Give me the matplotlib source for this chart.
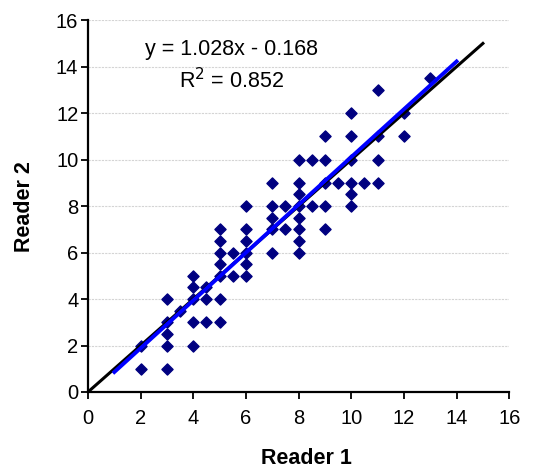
import matplotlib.pyplot as plt
import numpy as np

plt.rcParams['font.family'] = ['Liberation Sans', 'DejaVu Sans']

# Reader scores
reader1 = [2, 2, 3, 3, 3, 3, 3, 3.5, 4, 4, 4, 4, 4, 4.5, 4.5, 4.5,
           5, 5, 5, 5, 5, 5, 5, 5.5, 5.5,
           6, 6, 6, 6, 6, 6, 7, 7, 7, 7, 7, 7.5, 7.5,
           8, 8, 8, 8, 8, 8, 8, 8, 8.5, 8.5,
           9, 9, 9, 9, 9, 9.5, 10, 10, 10, 10, 10, 10, 10.5,
           11, 11, 11, 11, 12, 12, 13]
reader2 = [1, 2, 1, 2, 2.5, 3, 4, 3.5, 2, 3, 4, 4.5, 5, 3, 4, 4.5,
           3, 4, 5, 5.5, 6, 6.5, 7, 6, 5,
           8, 7, 6.5, 6, 5.5, 5, 9, 8, 7.5, 7, 6, 8, 7,
           10, 9, 8.5, 8, 7.5, 7, 6.5, 6, 10, 8,
           11, 10, 9, 8, 7, 9, 12, 11, 10, 9, 8.5, 8, 9,
           13, 11, 10, 9, 12, 11, 13.5]

# Identity line and fitted trend line
identity_x = [0, 15]
trend_x = np.array([1, 14])
slope, intercept = 1.028, -0.168

fig = plt.figure(figsize=(5.4, 4.7), dpi=100)
ax = fig.add_axes([0.163, 0.166, 0.78, 0.791])

ax.scatter(reader1, reader2, marker='D', s=32, color='#000080', zorder=3)
ax.plot(identity_x, identity_x, color='black', linewidth=2.2, zorder=4)
ax.plot(trend_x, slope * trend_x + intercept, color='#0000FF', linewidth=2.8, zorder=5)

ax.text(5.45, 14.75, 'y = 1.028x - 0.168', ha='center', va='center', fontsize=15.5)
ax.text(5.45, 13.4, 'R$^2$ = 0.852', ha='center', va='center', fontsize=15.5)

ax.set_xlim(0, 16)
ax.set_ylim(0, 16)
ax.set_xticks(range(0, 17, 2))
ax.set_yticks(range(0, 17, 2))
ax.tick_params(direction='out', length=5, width=1.3, labelsize=14.5, colors='black')
ax.tick_params(axis='x', pad=7)
ax.tick_params(axis='y', pad=2)
ax.grid(axis='y', color='#d4d4d4', linestyle=(0, (2, 1)), linewidth=0.8)
ax.set_axisbelow(True)
for side in ['top', 'right']:
    ax.spines[side].set_visible(False)
for side in ['left', 'bottom']:
    ax.spines[side].set_linewidth(1.6)

ax.set_xlabel('Reader 1', fontsize=15.5, fontweight='bold')
ax.set_ylabel('Reader 2', fontsize=15.5, fontweight='bold')
ax.xaxis.set_label_coords(0.518, -0.152)
ax.yaxis.set_label_coords(-0.126, 0.5)

plt.savefig('out.png', dpi=100)
